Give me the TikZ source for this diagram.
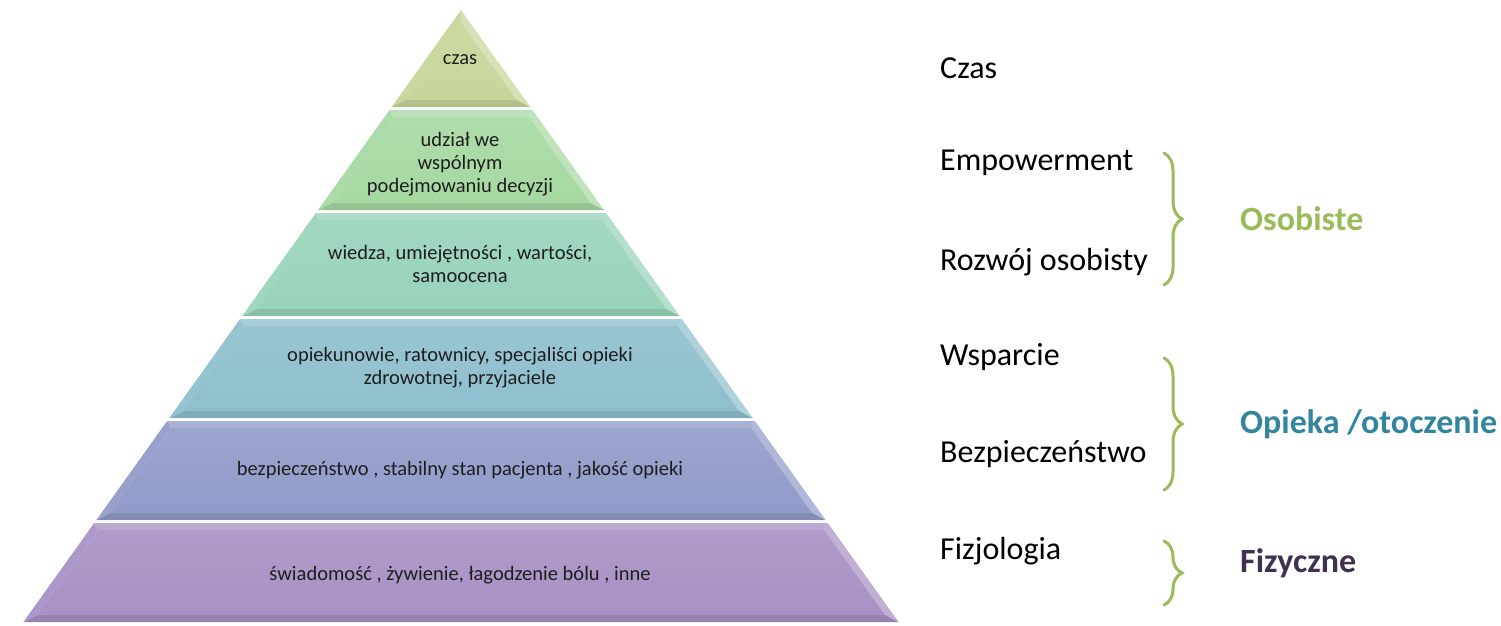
\documentclass[tikz,border=0pt]{standalone}
\usepackage{fontspec}
\setmainfont{Carlito}
\usetikzlibrary{decorations.pathreplacing}
\definecolor{cA}{HTML}{C6D69A}
\definecolor{cB}{HTML}{A6D9A2}
\definecolor{cC}{HTML}{98D3BA}
\definecolor{cD}{HTML}{8EBFCD}
\definecolor{cE}{HTML}{919BC9}
\definecolor{cF}{HTML}{A791C4}
\definecolor{brc}{HTML}{9BBB59}
\definecolor{opc}{HTML}{31859C}
\definecolor{fic}{HTML}{403152}
\definecolor{ptc}{HTML}{1E1E1E}
\def\ax{461}\def\ay{10}\def\kk{0.715}\def\dd{7}\def\hh{8.6}
\newcommand\pyrlayer[3]{%
 \pgfmathsetmacro\yT{#1}\pgfmathsetmacro\yB{#2}%
 \pgfmathsetmacro\xTL{\ax-\kk*(\yT-\ay)}\pgfmathsetmacro\xTR{\ax+\kk*(\yT-\ay)}%
 \pgfmathsetmacro\xBL{\ax-\kk*(\yB-\ay)}\pgfmathsetmacro\xBR{\ax+\kk*(\yB-\ay)}%
 \pgfmathsetmacro\yt{\yT+\dd}\pgfmathsetmacro\yb{\yB-\dd}%
 \pgfmathsetmacro\xtl{\ax-\kk*(\yt-\ay)+\hh}\pgfmathsetmacro\xtr{\ax+\kk*(\yt-\ay)-\hh}%
 \pgfmathsetmacro\xbl{\ax-\kk*(\yb-\ay)+\hh}\pgfmathsetmacro\xbr{\ax+\kk*(\yb-\ay)-\hh}%
 \fill[#3!78!white] (\xTL,\yT) -- (\xTR,\yT) -- (\xtr,\yt) -- (\xtl,\yt) -- cycle;
 \fill[#3!72!white] (\xTR,\yT) -- (\xBR,\yB) -- (\xbr,\yb) -- (\xtr,\yt) -- cycle;
 \fill[#3!90!black] (\xBR,\yB) -- (\xBL,\yB) -- (\xbl,\yb) -- (\xbr,\yb) -- cycle;
 \fill[#3!94!white] (\xBL,\yB) -- (\xTL,\yT) -- (\xtl,\yt) -- (\xbl,\yb) -- cycle;
 \shade[top color=#3!90!white,bottom color=#3] (\xtl,\yt) -- (\xtr,\yt) -- (\xbr,\yb) -- (\xbl,\yb) -- cycle;
}
\begin{document}
\begin{tikzpicture}[x=1pt,y=-1pt,
  ptxt/.style={text=ptc,font=\fontsize{20.5}{23}\selectfont,align=center,inner sep=0pt},
  lbl/.style={anchor=west,font=\fontsize{32}{36}\selectfont,inner sep=0pt},
  grp/.style={anchor=west,font=\fontsize{34}{38}\selectfont\bfseries,inner sep=0pt},
  brc/.style={draw=brc,line width=3pt,line cap=round,decorate,decoration={brace,amplitude=18pt}}]
\useasboundingbox (0,0) rectangle (1501,625);
% top triangle
\pgfmathsetmacro\tyB{107}
\pgfmathsetmacro\tBL{\ax-\kk*(\tyB-\ay)}\pgfmathsetmacro\tBR{\ax+\kk*(\tyB-\ay)}
\pgfmathsetmacro\tyb{\tyB-\dd}\pgfmathsetmacro\tyi{\ay+\hh/\kk}
\pgfmathsetmacro\tbl{\ax-\kk*(\tyb-\ay)+\hh}\pgfmathsetmacro\tbr{\ax+\kk*(\tyb-\ay)-\hh}
\fill[cA!94!white] (\ax,\ay) -- (\tBL,\tyB) -- (\tbl,\tyb) -- (\ax,\tyi) -- cycle;
\fill[cA!72!white] (\ax,\ay) -- (\tBR,\tyB) -- (\tbr,\tyb) -- (\ax,\tyi) -- cycle;
\fill[cA!90!black] (\tBL,\tyB) -- (\tBR,\tyB) -- (\tbr,\tyb) -- (\tbl,\tyb) -- cycle;
\shade[top color=cA!90!white,bottom color=cA] (\ax,\tyi) -- (\tbr,\tyb) -- (\tbl,\tyb) -- cycle;
% other layers
\pyrlayer{110}{210}{cB}
\pyrlayer{213}{316}{cC}
\pyrlayer{319}{418}{cD}
\pyrlayer{421}{520}{cE}
\pyrlayer{523}{622}{cF}
% layer texts
\node[ptxt] (t1) at (460,60) {czas};
\node[ptxt] (t2) at (460,164) {udział we\\wspólnym\\podejmowaniu decyzji};
\node[ptxt] (t3) at (460,264) {wiedza, umiejętności , wartości,\\samoocena};
\node[ptxt] (t4) at (460,368) {opiekunowie, ratownicy, specjaliści opieki\\zdrowotnej, przyjaciele};
\node[ptxt] (t5) at (460,470) {bezpieczeństwo , stabilny stan pacjenta , jakość opieki};
\node[ptxt] (t6) at (460,575) {świadomość , żywienie, łagodzenie bólu , inne};
% right labels
\node[lbl] (l1) at (940,68) {Czas};
\node[lbl] (l2) at (940,163) {Empowerment};
\node[lbl] (l3) at (940,262) {Rozwój osobisty};
\node[lbl] (l4) at (940,357) {Wsparcie};
\node[lbl] (l5) at (940,454) {Bezpieczeństwo};
\node[lbl] (l6) at (940,551) {Fizjologia};
% braces
\coordinate (b1t) at (1164,153); \coordinate (b1b) at (1164,285);
\coordinate (b2t) at (1164,358); \coordinate (b2b) at (1164,490);
\coordinate (b3t) at (1164,541); \coordinate (b3b) at (1164,605);
\draw[brc] (b1t) -- (b1b);
\draw[brc] (b2t) -- (b2b);
\draw[brc] (b3t) -- (b3b);
% group labels
\node[grp,text=brc] (g1) at (1240,219) {Osobiste};
\node[grp,text=opc] (g2) at (1240,424) {Opieka /otoczenie};
\node[grp,text=fic] (g3) at (1240,563) {Fizyczne};
\end{tikzpicture}
\end{document}
